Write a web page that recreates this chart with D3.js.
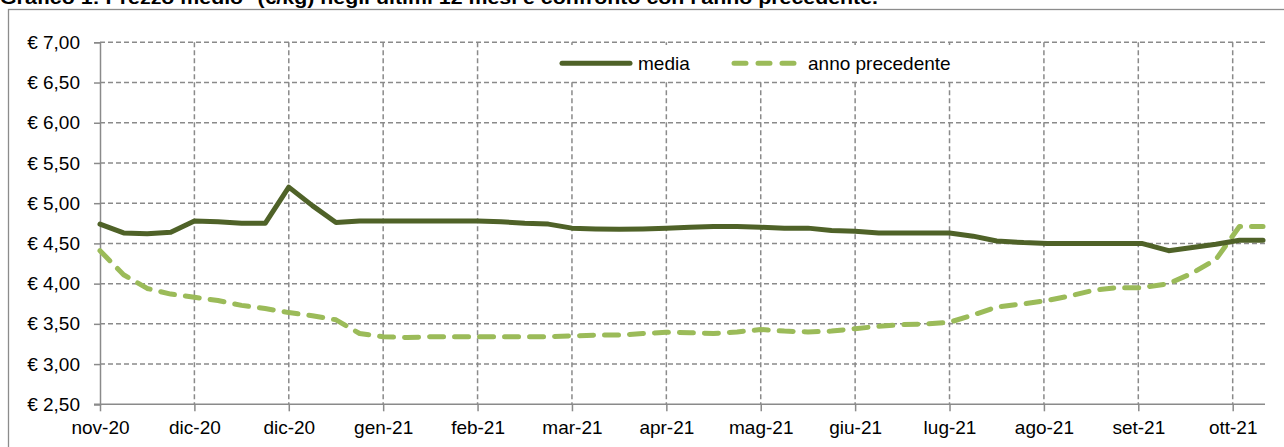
<!DOCTYPE html>
<html>
<head>
<meta charset="utf-8">
<script src="https://cdn.jsdelivr.net/npm/d3@7"></script>
<style>
  html, body { margin: 0; padding: 0; background: #fff; }
  svg { display: block; }
  text { font-family: "Liberation Sans", Arial, sans-serif; fill: #000; }
</style>
</head>
<body>
<svg id="chart" width="1284" height="447"></svg>
<script>
// ---- data ----
const dates = [
  "2020-11-04","2020-11-11","2020-11-18","2020-11-25","2020-12-02","2020-12-09","2020-12-16","2020-12-23","2020-12-30",
  "2021-01-06","2021-01-13","2021-01-20","2021-01-27","2021-02-03","2021-02-10","2021-02-17","2021-02-24",
  "2021-03-03","2021-03-10","2021-03-17","2021-03-24","2021-03-31","2021-04-07","2021-04-14","2021-04-21","2021-04-28",
  "2021-05-05","2021-05-12","2021-05-19","2021-05-26","2021-06-02","2021-06-09","2021-06-16","2021-06-23","2021-06-30",
  "2021-07-07","2021-07-14","2021-07-21","2021-07-28","2021-08-05","2021-08-12","2021-08-19","2021-08-26",
  "2021-09-02","2021-09-09","2021-09-17","2021-09-24","2021-10-01","2021-10-08","2021-10-15"
];
const media = [
  4.74,4.63,4.62,4.64,4.78,4.77,4.75,4.75,5.20,
  4.97,4.76,4.78,4.78,4.78,4.78,4.78,4.78,
  4.77,4.75,4.74,4.69,4.68,4.675,4.68,4.69,4.70,
  4.71,4.71,4.70,4.69,4.69,4.66,4.65,4.63,4.63,
  4.63,4.63,4.59,4.53,4.51,4.50,4.50,4.50,
  4.50,4.50,4.41,4.45,4.49,4.54,4.54
];
const annoPrecedente = [
  4.41,4.11,3.94,3.87,3.83,3.79,3.73,3.69,3.64,
  3.60,3.55,3.38,3.34,3.33,3.34,3.34,3.34,
  3.34,3.34,3.34,3.35,3.36,3.36,3.38,3.395,3.39,
  3.38,3.40,3.43,3.41,3.40,3.41,3.44,3.47,3.49,
  3.50,3.52,3.61,3.71,3.75,3.79,3.85,3.92,
  3.95,3.95,4.00,4.13,4.30,4.71,4.71
];
const tickDates = ["2020-11-04","2020-12-02","2020-12-30","2021-01-27","2021-02-24","2021-03-24","2021-04-21",
  "2021-05-19","2021-06-16","2021-07-14","2021-08-11","2021-09-08","2021-10-06"];
const tickLabels = ["nov-20","dic-20","dic-20","gen-21","feb-21","mar-21","apr-21","mag-21","giu-21","lug-21","ago-21","set-21","ott-21"];
const yTicks = [2.5,3.0,3.5,4.0,4.5,5.0,5.5,6.0,6.5,7.0];
const seriesNames = ["media","anno precedente"];
const title = "Grafico 1: Prezzo medio* (€/kg) negli ultimi 12 mesi e confronto con l'anno precedente.";

// ---- drawing ----
const parse = d3.utcParse("%Y-%m-%d");
const svg = d3.select("#chart");
const L = 100, R = 1265, T = 42.3, B = 404.3;

const x = d3.scaleUtc()
  .domain([parse("2020-11-04"), d3.utcHour.offset(parse("2021-10-15"), 14)])
  .range([L, R]);
const y = d3.scaleLinear().domain([2.5, 7]).range([B, T]);

const gridColor = "#8a8a8a";
const darkGreen = "#4f6228";
const lightGreen = "#9bbb59";

// outer frame
svg.append("rect").attr("x", 8.5).attr("y", 9.5).attr("width", 1290).attr("height", 460)
  .attr("fill", "none").attr("stroke", "#8c8c8c").attr("stroke-width", 1.3);

// title (partially clipped at the top)
svg.append("text").attr("x", 0).attr("y", 4).attr("font-size", 19).attr("font-weight", "bold")
  .attr("textLength", 878).attr("lengthAdjust", "spacingAndGlyphs").text(title);

// horizontal gridlines
const tickD = tickDates.map(parse);
svg.append("g").selectAll("line").data(yTicks.filter(v => v > 2.5)).join("line")
  .attr("x1", L).attr("x2", R).attr("y1", d => y(d)).attr("y2", d => y(d))
  .attr("stroke", gridColor).attr("stroke-width", 1.5).attr("stroke-dasharray", "5,3");
// vertical gridlines
svg.append("g").selectAll("line").data(tickD.slice(1)).join("line")
  .attr("x1", d => x(d)).attr("x2", d => x(d)).attr("y1", T).attr("y2", B)
  .attr("stroke", gridColor).attr("stroke-width", 1.5).attr("stroke-dasharray", "5,3");

// y axis
const yAxis = d3.axisLeft(y).tickValues(yTicks).tickSize(6).tickPadding(14)
  .tickFormat(d => "€ " + d3.format(".2f")(d).replace(".", ","));
const gy = svg.append("g").attr("transform", `translate(${L},0)`).call(yAxis);
gy.select(".domain").attr("stroke", gridColor).attr("stroke-width", 1.5);
gy.selectAll(".tick line").attr("stroke", gridColor).attr("stroke-width", 1.5);
gy.selectAll(".tick text").attr("font-size", 19).attr("font-family", "Liberation Sans, Arial, sans-serif").attr("fill", "#000");

// x axis
const xAxis = d3.axisBottom(x).tickValues(tickD).tickSize(7).tickPadding(9)
  .tickFormat((d, i) => tickLabels[i]);
const gx = svg.append("g").attr("transform", `translate(0,${B})`).call(xAxis);
gx.select(".domain").attr("d", `M${L - 6},0H${R}`).attr("stroke", gridColor).attr("stroke-width", 1.5);
gx.selectAll(".tick line").attr("stroke", gridColor).attr("stroke-width", 1.5);
gx.selectAll(".tick text").attr("font-size", 19).attr("font-family", "Liberation Sans, Arial, sans-serif").attr("fill", "#000");

// lines
const dd = dates.map(parse);
const line = d3.line().x(d => x(d[0])).y(d => y(d[1]));
svg.append("path").datum(dd.map((d, i) => [d, annoPrecedente[i]]))
  .attr("d", line).attr("fill", "none").attr("stroke", lightGreen).attr("stroke-width", 5)
  .attr("stroke-linecap", "round").attr("stroke-linejoin", "round").attr("stroke-dasharray", "14,11");
svg.append("path").datum(dd.map((d, i) => [d, media[i]]))
  .attr("d", line).attr("fill", "none").attr("stroke", darkGreen).attr("stroke-width", 5)
  .attr("stroke-linecap", "round").attr("stroke-linejoin", "round");

// legend
const lg = svg.append("g");
lg.append("rect").attr("x", 545).attr("y", 45).attr("width", 430).attr("height", 35).attr("fill", "#fff");
lg.append("line").attr("x1", 562).attr("x2", 630).attr("y1", 63.3).attr("y2", 63.3)
  .attr("stroke", darkGreen).attr("stroke-width", 5).attr("stroke-linecap", "round");
lg.append("line").attr("x1", 734).attr("x2", 794).attr("y1", 63.3).attr("y2", 63.3)
  .attr("stroke", lightGreen).attr("stroke-width", 5).attr("stroke-linecap", "round").attr("stroke-dasharray", "12,12");
lg.append("text").attr("x", 638).attr("y", 63.3).attr("dy", "0.35em").attr("font-size", 19).text(seriesNames[0]);
lg.append("text").attr("x", 808).attr("y", 63.3).attr("dy", "0.35em").attr("font-size", 19).text(seriesNames[1]);
</script>
</body>
</html>
